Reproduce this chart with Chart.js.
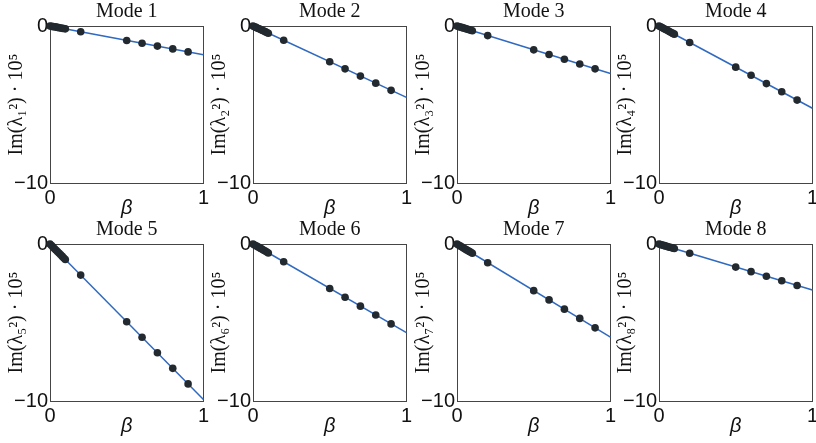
<!DOCTYPE html>
<html>
<head>
<meta charset="utf-8">
<script src="https://cdn.jsdelivr.net/npm/chart.js@4.4.1/dist/chart.umd.min.js"></script>
<style>
  body { margin: 0; background: #fff; }
  #wrap { position: relative; width: 816px; height: 443px; overflow: hidden; }
  .panel { position: absolute; width: 214px; height: 221px; }
</style>
</head>
<body>
<div id="wrap"></div>
<script>
// beta values where the eigenvalues were sampled
let betas = [0, 0.01, 0.02, 0.03, 0.04, 0.05, 0.06, 0.07, 0.08, 0.09, 0.1, 0.2, 0.5, 0.6, 0.7, 0.8, 0.9]

let modeTitles = ['Mode 1', 'Mode 2', 'Mode 3', 'Mode 4', 'Mode 5', 'Mode 6', 'Mode 7', 'Mode 8']
let yLabels = ['Im(λ₁²) · 10⁵', 'Im(λ₂²) · 10⁵', 'Im(λ₃²) · 10⁵', 'Im(λ₄²) · 10⁵',
               'Im(λ₅²) · 10⁵', 'Im(λ₆²) · 10⁵', 'Im(λ₇²) · 10⁵', 'Im(λ₈²) · 10⁵']

// Im(lambda^2) * 1e5 at each beta, one array per mode
let mode1 = [0, -0.02, -0.04, -0.05, -0.07, -0.09, -0.11, -0.13, -0.15, -0.16, -0.18, -0.37, -0.92, -1.10, -1.28, -1.46, -1.65]
let mode2 = [0, -0.05, -0.09, -0.14, -0.18, -0.23, -0.27, -0.32, -0.36, -0.41, -0.46, -0.91, -2.28, -2.73, -3.19, -3.64, -4.10]
let mode3 = [0, -0.03, -0.06, -0.09, -0.12, -0.15, -0.18, -0.21, -0.24, -0.27, -0.30, -0.61, -1.52, -1.82, -2.12, -2.42, -2.73]
let mode4 = [0, -0.05, -0.10, -0.16, -0.21, -0.26, -0.31, -0.37, -0.42, -0.47, -0.52, -1.05, -2.62, -3.14, -3.67, -4.19, -4.72]
let mode5 = [0, -0.10, -0.20, -0.30, -0.40, -0.50, -0.59, -0.69, -0.79, -0.89, -0.99, -1.98, -4.95, -5.94, -6.93, -7.92, -8.91]
let mode6 = [0, -0.06, -0.11, -0.17, -0.23, -0.28, -0.34, -0.40, -0.45, -0.51, -0.57, -1.13, -2.83, -3.39, -3.96, -4.52, -5.09]
let mode7 = [0, -0.06, -0.12, -0.18, -0.24, -0.30, -0.36, -0.42, -0.47, -0.53, -0.59, -1.19, -2.97, -3.56, -4.15, -4.74, -5.34]
let mode8 = [0, -0.03, -0.06, -0.09, -0.12, -0.15, -0.18, -0.21, -0.23, -0.26, -0.29, -0.59, -1.47, -1.76, -2.05, -2.34, -2.64]
let modeValues = [mode1, mode2, mode3, mode4, mode5, mode6, mode7, mode8]

// fitted line: value at beta = 0 and beta = 1
let lineStart = [0, 0, 0, 0, 0, 0, 0, 0]
let lineEnd = [-1.83, -4.55, -3.03, -5.24, -9.9, -5.65, -5.93, -2.93]

let xTicks = [0, 1]
let yTicks = [-10, 0]

let serif = '"Liberation Serif", "Times New Roman", serif'
let sans = '"Liberation Sans", Arial, sans-serif'

// boxed axes like the original figure
let framePlugin = {
    id: 'frame',
    beforeDatasetsDraw(chart) {
        let a = chart.chartArea
        let ctx = chart.ctx
        ctx.save()
        ctx.strokeStyle = '#454545'
        ctx.lineWidth = 1
        ctx.strokeRect(Math.round(a.left) + 0.5, Math.round(a.top) + 0.5,
                       Math.round(a.right - a.left), Math.round(a.bottom - a.top))
        ctx.restore()
    }
}

let panelLefts = [0, 203, 407, 609]
let panelTops = [0, 218]
let wrap = document.querySelector('#wrap')

modeTitles.forEach(function(title, i) {
    let div = document.createElement('div')
    div.className = 'panel'
    div.style.left = panelLefts[i % 4] + 'px'
    div.style.top = panelTops[Math.floor(i / 4)] + 'px'
    let canvas = document.createElement('canvas')
    canvas.width = 214
    canvas.height = 221
    canvas.style.width = '214px'
    canvas.style.height = '221px'
    div.appendChild(canvas)
    wrap.appendChild(div)

    let points = betas.map((b, k) => ({ x: b, y: modeValues[i][k] }))

    new Chart(canvas.getContext('2d'), {
        type: 'scatter',
        data: {
            datasets: [{
                type: 'line',
                data: [{ x: xTicks[0], y: lineStart[i] }, { x: xTicks[1], y: lineEnd[i] }],
                borderColor: '#3069c0',
                borderWidth: 1.5,
                pointRadius: 0,
                clip: false,
                order: 2
            }, {
                data: points,
                backgroundColor: '#22292f',
                borderWidth: 0,
                pointRadius: 3.8,
                clip: false,
                order: 1
            }]
        },
        options: {
            responsive: false,
            animation: false,
            devicePixelRatio: 1,
            layout: { padding: { left: 0, right: 10, top: 0, bottom: 0 } },
            plugins: {
                legend: { display: false },
                tooltip: { enabled: false }
            },
            scales: {
                // top axis only carries the panel title, centred on the plot box
                top: {
                    type: 'linear',
                    position: 'top',
                    min: xTicks[0],
                    max: xTicks[1],
                    grid: { display: false, drawTicks: false },
                    border: { display: false },
                    ticks: { display: false },
                    afterFit: s => { s.height = 26 },
                    title: {
                        display: true,
                        text: title,
                        color: '#111',
                        font: { family: serif, size: 20, lineHeight: 1.2 },
                        padding: { top: 0, bottom: 0 }
                    }
                },
                x: {
                    type: 'linear',
                    position: 'bottom',
                    min: xTicks[0],
                    max: xTicks[1],
                    grid: { display: false, drawTicks: false },
                    border: { display: false },
                    afterBuildTicks: s => { s.ticks = xTicks.map(v => ({ value: v })) },
                    afterFit: s => { s.height = 38 },
                    ticks: {
                        color: '#111',
                        padding: 5,
                        maxRotation: 0,
                        font: { family: sans, size: 20, lineHeight: 1 }
                    },
                    title: {
                        display: true,
                        text: 'β',
                        color: '#111',
                        font: { family: sans, size: 20, style: 'italic', lineHeight: 1.2 },
                        padding: { top: 0, bottom: 1 }
                    }
                },
                y: {
                    type: 'linear',
                    min: yTicks[0],
                    max: yTicks[1],
                    grid: { display: false, drawTicks: false },
                    border: { display: false },
                    afterBuildTicks: s => { s.ticks = yTicks.map(v => ({ value: v })) },
                    afterFit: s => { s.width = 50 },
                    ticks: {
                        color: '#111',
                        padding: 2,
                        font: { family: sans, size: 20, lineHeight: 1 },
                        callback: v => v < 0 ? '−' + Math.abs(v) : '' + v
                    },
                    title: {
                        display: true,
                        text: yLabels[i],
                        color: '#111',
                        font: { family: serif, size: 20, lineHeight: 1.2 },
                        padding: { top: 5, bottom: 0 }
                    }
                }
            }
        },
        plugins: [framePlugin]
    })
})
</script>
</body>
</html>
